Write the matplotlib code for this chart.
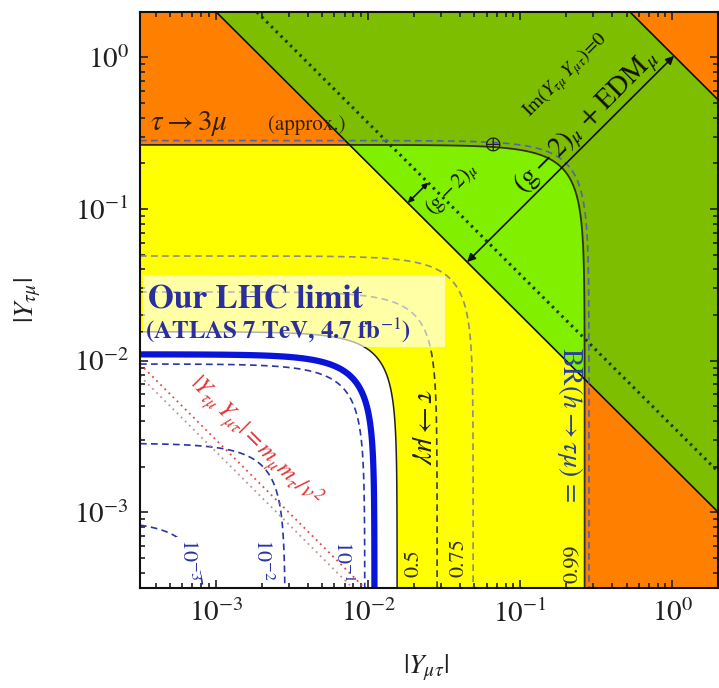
import numpy as np
import matplotlib
matplotlib.use("Agg")
import matplotlib.pyplot as plt
from matplotlib.colors import ListedColormap
from matplotlib.patches import Rectangle
from matplotlib.ticker import LogLocator, NullFormatter

plt.rcParams['font.family'] = ['STIXGeneral', 'DejaVu Serif']
plt.rcParams['mathtext.fontset'] = 'stix'

# ---------------- data ----------------
x_range = [10**-3.5, 10**0.3]          # |Y_mu tau|
y_range = [10**-3.5, 10**0.3]          # |Y_tau mu|
xtick_values = [1e-3, 1e-2, 1e-1, 1e0]
xtick_labels = [r'$10^{-3}$', r'$10^{-2}$', r'$10^{-1}$', r'$10^{0}$']

# BR(h -> tau mu) contours: sqrt(|Y_mt|^2+|Y_tm|^2) for each level
br_levels = ['10^{-3}', '10^{-2}', '10^{-1}', '0.5', '0.75', '0.99']
br_radius = [8.8e-4, 2.85e-3, 9.5e-3, 0.0284, 0.049, 0.283]

lhc_limit_radius = 0.011        # our LHC limit (ATLAS 7 TeV, 4.7 fb^-1)
tau_mu_gamma_radius = 0.0155    # tau -> mu gamma
tau_3mu_radius = 0.265          # tau -> 3 mu (approx.)

gm2_lower_product = 2.0e-3      # (g-2)_mu lower edge |Y Y|
gm2_im0_product = 3.7e-3        # (g-2)_mu with Im(Y Y)=0 upper edge
gm2_edm_product = 1.05          # (g-2)_mu + EDM_mu upper edge
naturalness_products = [3.0e-6, 2.5e-6]   # |Y Y| = m_mu m_tau / v^2

region_colors = ['#ffffff', '#ffff00', '#80ef00', '#7dbe00', '#ff8000']

# ---------------- figure ----------------
fig = plt.figure(figsize=(7.19, 6.88), dpi=100)
ax = fig.add_axes([140/719, (688-588)/688, 578/719, 576/688])
ax.set_xscale('log')
ax.set_yscale('log')

lx = np.linspace(np.log10(x_range[0]), np.log10(x_range[1]), 1400)
ly = np.linspace(np.log10(y_range[0]), np.log10(y_range[1]), 1400)
X, Y = np.meshgrid(10**lx, 10**ly)
R = np.hypot(X, Y)
P = X * Y

Z = np.where(P > gm2_edm_product, 4,
     np.where(P > gm2_lower_product,
              np.where(R < tau_3mu_radius, 2, 3),
              np.where(R > tau_3mu_radius, 4,
                       np.where(R > tau_mu_gamma_radius, 1, 0))))
ax.pcolormesh(X, Y, Z, cmap=ListedColormap(region_colors), vmin=-0.5, vmax=4.5,
              shading='auto', rasterized=True)

# boundaries
ax.contour(X, Y, R, levels=[tau_mu_gamma_radius], colors='#202020', linewidths=1.1)
ax.contour(X, Y, R, levels=[tau_3mu_radius], colors='#303010', linewidths=1.3)
ax.contour(X, Y, P, levels=[gm2_lower_product, gm2_edm_product], colors='#101010', linewidths=1.2)
ax.contour(X, Y, P, levels=[gm2_im0_product], colors='#1a3a00', linewidths=2.2,
           linestyles=[(0, (0.8, 1.4))])

# BR contours
br_colors = ['#2a35a5', '#2a35a5', '#2a35a5', '#3a3a4a', '#8c8c8c', '#5462b0']
for rad, col in zip(br_radius, br_colors):
    ax.contour(X, Y, R, levels=[rad], colors=[col], linewidths=1.2,
               linestyles=[(0, (4, 2.6))])

# LHC limit (thick blue)
ax.contour(X, Y, R, levels=[lhc_limit_radius], colors='#0a14d8', linewidths=4.5)

# naturalness lines
ax.contour(X, Y, P, levels=[naturalness_products[0]], colors='#e84545', linewidths=1.3,
           linestyles=[(0, (1, 2.2))])
ax.contour(X, Y, P, levels=[naturalness_products[1]], colors='#c89090', linewidths=1.3,
           linestyles=[(0, (1, 2.2))])

# semi-transparent label box
ax.add_patch(Rectangle((0.005, 0.418), 0.522, 0.125, transform=ax.transAxes,
                       facecolor='white', alpha=0.65, edgecolor='none', zorder=5))
ax.text(3.57e-4, 0.0251, 'Our LHC limit', color='#2b2f9e', fontsize=24,
        fontweight='bold', ha='left', va='center', zorder=6)
ax.text(3.41e-4, 0.0159, r'(ATLAS 7 TeV, 4.7 fb$^{-1}$)', color='#2b2f9e', fontsize=18,
        fontweight='bold', ha='left', va='center', zorder=6)

# tau -> 3 mu label
ax.text(3.68e-4, 0.333, r'$\tau \rightarrow 3\mu$', fontsize=21, color='#302010',
        ha='left', va='baseline')
ax.text(2.2e-3, 0.333, '(approx.)', fontsize=15, color='#302010',
        ha='left', va='baseline')

# tau -> mu gamma label
ax.text(0.0223, 3.6e-3, r'$\tau \rightarrow \mu\gamma$', fontsize=21, rotation=-90,
        ha='center', va='center', color='#202020')

# BR label
ax.text(0.213, 0.0123, r'BR$(h \rightarrow \tau\mu)$ =', fontsize=20, rotation=-90,
        ha='center', va='top', color='#2840a0')

# contour value labels
br_label_pos = [(6.55e-4, 4.9e-4), (2.01e-3, 4.9e-4), (6.75e-3, 4.8e-4),
                (0.0198, 4.6e-4), (0.0391, 5.0e-4), (0.22, 4.6e-4)]
br_label_rot = [-90, -90, -90, 90, 90, 90]
br_label_col = ['#2a35a5', '#2a35a5', '#2a35a5', '#303030', '#303030', '#303030']
for lev, (tx, ty), rot, col in zip(br_levels, br_label_pos, br_label_rot, br_label_col):
    kw = {}
    if lev == '10^{-3}':
        kw['bbox'] = dict(facecolor='white', edgecolor='none', pad=0.5)
    ax.text(tx, ty, r'$%s$' % lev if lev.startswith('10') else lev, fontsize=16,
            rotation=rot, ha='center', va='center', color=col, **kw)

# naturalness label
ax.text(1.8e-3, 2.9e-3, r'$|Y_{\tau\mu}\,Y_{\mu\tau}| = m_\mu m_\tau / v^2$', fontsize=17,
        rotation=-45, ha='center', va='center', color='#e03535')

# (g-2) arrows and labels
ax.annotate('', xy=(1.025, 1.025), xytext=(0.0447, 0.0447),
            arrowprops=dict(arrowstyle='<|-|>', color='#101010', lw=1.2,
                            mutation_scale=12, shrinkA=0, shrinkB=0))
ax.annotate('', xy=(10**-1.605, 10**-0.825), xytext=(10**-1.74, 10**-0.96),
            arrowprops=dict(arrowstyle='<|-|>', color='#101010', lw=1.2,
                            mutation_scale=8, shrinkA=0, shrinkB=0))
ax.text(0.272, 0.375, r'$(\mathrm{g}-2)_\mu$ + EDM$_\mu$', fontsize=20, rotation=45,
        ha='center', va='center', color='#101010', rotation_mode='anchor')
ax.text(0.0357, 0.134, r'$(\mathrm{g}-2)_\mu$', fontsize=15, rotation=45,
        ha='center', va='center', color='#101010', rotation_mode='anchor')
ax.text(0.0664, 0.265, '⊕', fontsize=14, ha='center', va='center', color='#202020')
ax.text(0.198, 0.766, r'Im$(Y_{\tau\mu}\,Y_{\mu\tau})$=0', fontsize=14, rotation=45,
        ha='center', va='center', color='#101010', rotation_mode='anchor')

# axes
ax.set_xlim(x_range)
ax.set_ylim(y_range)
for axis in (ax.xaxis, ax.yaxis):
    axis.set_major_locator(LogLocator(base=10, numticks=20))
    axis.set_minor_locator(LogLocator(base=10, subs=np.arange(2, 10), numticks=20))
    axis.set_minor_formatter(NullFormatter())
ax.set_xticks(xtick_values)
ax.set_xticklabels(xtick_labels)
ax.set_yticks(xtick_values)
ax.set_yticklabels(xtick_labels)
ax.tick_params(which='both', direction='in', top=True, right=True, width=1.2,
               labelsize=21, colors='#202020')
ax.tick_params(which='major', length=6, pad=8)
ax.tick_params(which='minor', length=3.5)
for s in ax.spines.values():
    s.set_linewidth(1.5)
    s.set_color('#101010')

fig.text(426/719, 1-668/688, r'$|Y_{\mu\tau}|$', fontsize=20, ha='center', va='center',
         color='#202020')
fig.text(28/719, 1-300/688, r'$|Y_{\tau\mu}|$', fontsize=20, ha='center', va='center',
         rotation=90, color='#202020')

fig.savefig('out.png', dpi=100)
